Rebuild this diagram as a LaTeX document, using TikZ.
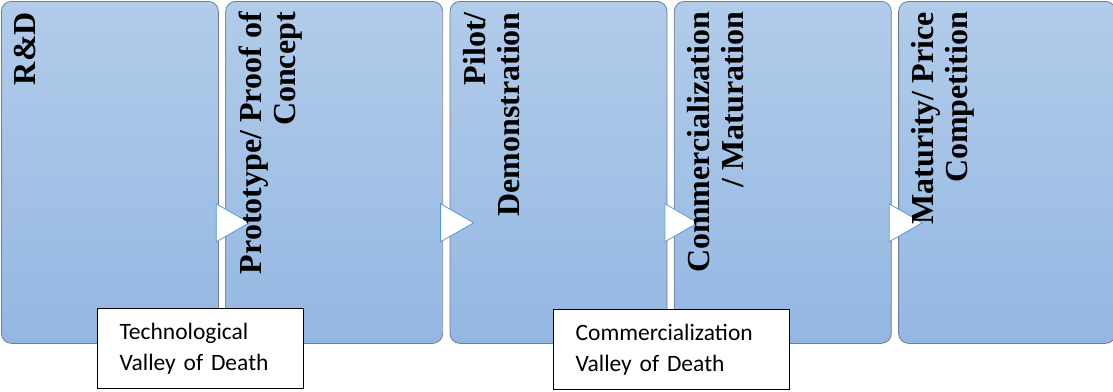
\documentclass[tikz,border=0pt]{standalone}
\usepackage{fontspec}
\setmainfont{Liberation Serif}
\newfontfamily\labelfont{Carlito}
\usepackage{tikz}
\usetikzlibrary{positioning,shapes.geometric}
\definecolor{stagetop}{RGB}{178,204,234}
\definecolor{stagebottom}{RGB}{148,183,226}
\definecolor{stageedge}{RGB}{115,125,140}
\definecolor{tipedge}{RGB}{91,155,213}

\begin{document}
\begin{tikzpicture}[x=1pt,y=1pt,
  stagebox/.style={draw=stageedge, line width=0.8pt, rounded corners=10pt,
    top color=stagetop, bottom color=stagebottom,
    minimum width=217pt, minimum height=342pt, inner sep=0pt},
  stagetext/.style={rotate=90, anchor=north east, align=right, inner sep=0pt,
    font=\fontsize{32}{34}\selectfont\bfseries},
  tipbox/.style={isosceles triangle, isosceles triangle stretches,
    minimum width=38pt, minimum height=33pt, inner sep=0pt,
    draw=tipedge, fill=white, line width=0.8pt},
  valleybox/.style={draw=black, line width=1.2pt, fill=white, anchor=north west,
    align=left, inner xsep=22pt, minimum height=80pt,
    font=\labelfont\fontsize{23.5}{31}\selectfont}]
  \useasboundingbox (0,0) rectangle (1113,-391);
  \node[stagebox, anchor=north west] (rd) at (1,-1) {};
  \node[stagebox, right=6.5pt of rd] (proto) {};
  \node[stagebox, right=6.5pt of proto] (pilot) {};
  \node[stagebox, right=6.5pt of pilot] (comm) {};
  \node[stagebox, right=6.5pt of comm] (mature) {};
  \node[tipbox] (tip1) at ([shift={(8.5,121)}]rd.south east) {};
  \node[tipbox] (tip2) at ([shift={(8.5,121)}]proto.south east) {};
  \node[tipbox] (tip3) at ([shift={(8.5,121)}]pilot.south east) {};
  \node[tipbox] (tip4) at ([shift={(8.5,121)}]comm.south east) {};
  \node[stagetext] (rdtext) at ([shift={(13,-11)}]rd.north west) {R\&D};
  \node[stagetext] (prototext) at ([shift={(13,-11)}]proto.north west) {Prototype/ Proof of\\Concept};
  \node[stagetext] (pilottext) at ([shift={(13,-11)}]pilot.north west) {Pilot/\\Demonstration};
  \node[stagetext] (commtext) at ([shift={(13,-11)}]comm.north west) {Commercialization\\/ Maturation};
  \node[stagetext] (maturetext) at ([shift={(13,-11)}]mature.north west) {Maturity/ Price\\Competition};
  \node[valleybox, text width=162pt] (techvalley) at (97,-308) {Technological\\Valley of Death};
  \node[valleybox, text width=192pt] (commvalley) at (553,-309) {Commercialization\\Valley of Death};
\end{tikzpicture}
\end{document}
